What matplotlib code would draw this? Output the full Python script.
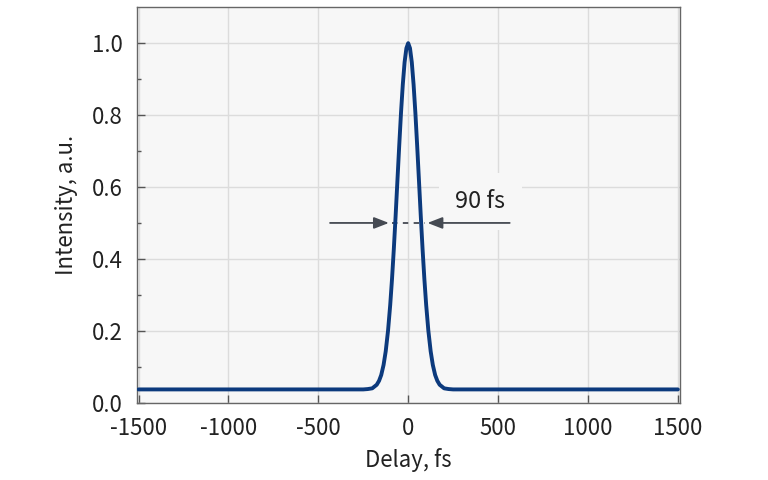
import matplotlib.pyplot as plt

plt.rcParams['font.family'] = ['Noto Sans CJK SC', 'DejaVu Sans']
plt.rcParams['axes.unicode_minus'] = False

# Pulse trace (delay in fs, intensity in a.u.)
delay = [-1500, -250, -225, -200, -175, -162, -150, -137, -125, -112, -100, -90, -80, -70,
         -60, -50, -40, -30, -20, -10, 0, 10, 20, 30, 40, 50, 60, 70, 80, 90, 100,
         112, 125, 137, 150, 162, 175, 200, 225, 250, 1500]
intensity = [0.037, 0.037, 0.038, 0.040, 0.050, 0.061, 0.077, 0.105, 0.143, 0.201, 0.272, 0.344,
             0.427, 0.519, 0.617, 0.714, 0.806, 0.885, 0.947, 0.986, 1.0, 0.986, 0.947, 0.885,
             0.806, 0.714, 0.617, 0.519, 0.427, 0.344, 0.272, 0.201, 0.143, 0.105, 0.077,
             0.061, 0.050, 0.040, 0.038, 0.037, 0.037]

fwhm_label = '90 fs'
half_level = 0.5
left_arrow = (-450, -92)
right_arrow = (580, 92)

fig = plt.figure(figsize=(7.68, 4.8), dpi=100)
ax = fig.add_axes([0.178, 0.161, 0.707, 0.824])
ax.set_facecolor('#f7f7f7')

ax.plot(delay, intensity, color='#0c3a7d', lw=2.8, solid_capstyle='round',
        solid_joinstyle='round', zorder=4)

# FWHM marker
arrow_kw = dict(arrowstyle='-|>,head_length=0.9,head_width=0.35', color='#454a52', lw=1.3)
ax.plot([left_arrow[1], right_arrow[1]], [half_level, half_level], ls=(0, (3, 3)),
        color='#454a52', lw=1.3, zorder=3)
ax.annotate('', xy=(left_arrow[1], half_level), xytext=(left_arrow[0], half_level),
            arrowprops=arrow_kw, zorder=5)
ax.annotate('', xy=(right_arrow[1], half_level), xytext=(right_arrow[0], half_level),
            arrowprops=arrow_kw, zorder=5)
ax.text(402, 0.56, fwhm_label, ha='center', va='center', fontsize=17, color='#222222',
        bbox=dict(facecolor='#f7f7f7', edgecolor='none', pad=12), zorder=2)

ax.set_xlim(-1510, 1510)
ax.set_ylim(0, 1.1)
ax.set_xticks([-1500, -1000, -500, 0, 500, 1000, 1500])
ax.set_yticks([0.0, 0.2, 0.4, 0.6, 0.8, 1.0])
ax.set_yticks([0.1, 0.3, 0.5, 0.7, 0.9], minor=True)
ax.set_yticklabels(['0.0', '0.2', '0.4', '0.6', '0.8', '1.0'])
ax.grid(color='#dcdcdc', lw=1.0, zorder=0)
ax.set_axisbelow(True)

ax.tick_params(which='major', direction='in', length=6, width=1, color='#555555',
               labelsize=16, labelcolor='#222222')
ax.tick_params(axis='x', pad=10)
ax.tick_params(axis='y', pad=10)
ax.tick_params(which='minor', direction='in', length=3, width=1, color='#555555')
for s in ax.spines.values():
    s.set_color('#666666')
    s.set_linewidth(1.0)

ax.set_xlabel('Delay, fs', fontsize=16, color='#222222', labelpad=6)
ax.set_ylabel('Intensity, a.u.', fontsize=16, color='#222222', labelpad=10)

plt.savefig('out.png', dpi=100)
